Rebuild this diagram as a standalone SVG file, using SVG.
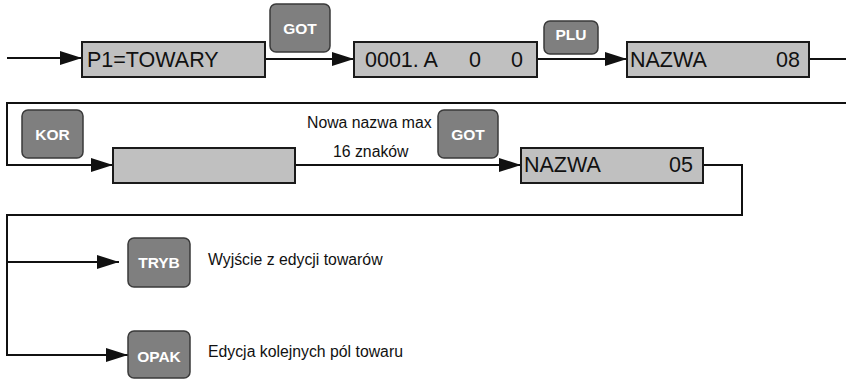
<svg xmlns="http://www.w3.org/2000/svg" width="846" height="380" viewBox="0 0 846 380">
<style>
.box{fill:#c0c0c0;stroke:#1a1a1a;stroke-width:2}
.btn{fill:#7f7f7f;stroke:#3a3a3a;stroke-width:1.5}
.bt{font-family:"Liberation Sans",Arial,sans-serif;font-weight:bold;font-size:15.5px;fill:#ffffff;text-anchor:middle}
.lt{font-family:"Liberation Sans",Arial,sans-serif;font-size:21.5px;fill:#111}
.st{font-family:"Liberation Sans",Arial,sans-serif;font-size:15.8px;fill:#111}
.ln{fill:none;stroke:#111;stroke-width:2}
</style>
<defs>
<marker id="arr" markerUnits="userSpaceOnUse" markerWidth="22" markerHeight="14" refX="22" refY="7" orient="auto">
<polygon points="0,0 22,7 0,14" fill="#111"/>
</marker>
</defs>
<g id="connectors">
<line class="ln" x1="7" y1="58" x2="82" y2="58" marker-end="url(#arr)"/>
<line class="ln" x1="265" y1="59" x2="354" y2="59" marker-end="url(#arr)"/>
<line class="ln" x1="537" y1="59" x2="627" y2="59" marker-end="url(#arr)"/>
<polyline class="ln" points="809,59 846,59"/>
<polyline class="ln" points="846,103 7,103 7,165 113,165" marker-end="url(#arr)"/>
<line class="ln" x1="295" y1="165" x2="521" y2="165" marker-end="url(#arr)"/>
<polyline class="ln" points="703,165 742,165 742,215 7,215 7,355 128,355" marker-end="url(#arr)"/>
<line class="ln" x1="7" y1="262" x2="119" y2="262" marker-end="url(#arr)"/>
</g>
<g id="p1towary">
<rect class="box" x="82" y="42" width="183" height="35"/>
<text class="lt" x="87" y="67">P1=TOWARY</text>
</g>
<g id="got1">
<rect class="btn" x="270" y="4" width="60" height="48" rx="6"/>
<text class="bt" x="300" y="34">GOT</text>
</g>
<g id="box0001">
<rect class="box" x="354" y="42" width="183" height="35"/>
<text class="lt" x="365" y="67">0001. A</text>
<text class="lt" x="469" y="67">0</text>
<text class="lt" x="511" y="67">0</text>
</g>
<g id="plu">
<rect class="btn" x="544" y="21" width="54" height="33" rx="6"/>
<text class="bt" x="571" y="40">PLU</text>
</g>
<g id="nazwa08">
<rect class="box" x="627" y="42" width="182" height="35"/>
<text class="lt" x="630" y="67">NAZWA</text>
<text class="lt" x="800" y="67" text-anchor="end">08</text>
</g>
<g id="kor">
<rect class="btn" x="22" y="110" width="61" height="48" rx="6"/>
<text class="bt" x="52.5" y="139.5">KOR</text>
</g>
<g id="emptybox">
<rect class="box" x="113" y="148" width="182" height="35"/>
</g>
<g id="label-nowa">
<text class="st" x="307" y="128">Nowa nazwa max</text>
<text class="st" x="333" y="157">16 znaków</text>
</g>
<g id="got2">
<rect class="btn" x="438" y="110" width="60" height="48" rx="6"/>
<text class="bt" x="468" y="139.5">GOT</text>
</g>
<g id="nazwa05">
<rect class="box" x="521" y="148" width="182" height="35"/>
<text class="lt" x="524" y="172">NAZWA</text>
<text class="lt" x="693" y="172" text-anchor="end">05</text>
</g>
<g id="tryb">
<rect class="btn" x="128" y="238" width="62" height="49" rx="6"/>
<text class="bt" x="159" y="268">TRYB</text>
<text class="st" x="208" y="265">Wyjście z edycji towarów</text>
</g>
<g id="opak">
<rect class="btn" x="128" y="331" width="62" height="47" rx="6"/>
<text class="bt" x="159" y="362">OPAK</text>
<text class="st" x="208" y="357">Edycja kolejnych pól towaru</text>
</g>
</svg>
